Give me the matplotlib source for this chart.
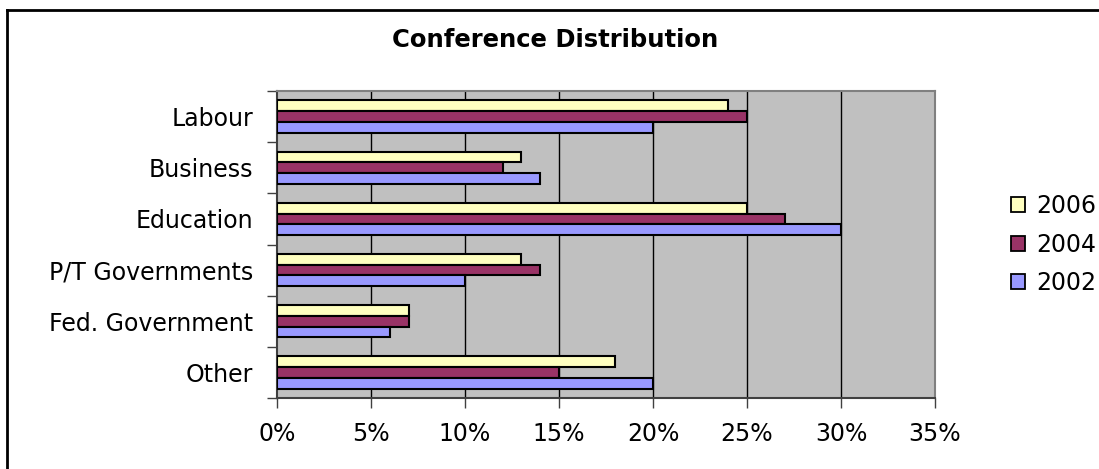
import matplotlib
matplotlib.use("Agg")
import matplotlib.pyplot as plt
from matplotlib.lines import Line2D
from matplotlib.patches import Patch
import numpy as np

plt.rcParams['font.family'] = ['DejaVu Sans']

categories = ["Labour", "Business", "Education", "P/T Governments",
              "Fed. Government", "Other"]
series_names = ["2006", "2004", "2002"]
values_2006 = [24, 13, 25, 13, 7, 18]
values_2004 = [25, 12, 27, 14, 7, 15]
values_2002 = [20, 14, 30, 10, 6, 20]
x_ticks = [0, 5, 10, 15, 20, 25, 30, 35]
x_tick_labels = ["0%", "5%", "10%", "15%", "20%", "25%", "30%", "35%"]

colors = ["#FFFFC0", "#993366", "#9999FF"]
series_values = [values_2006, values_2004, values_2002]

W, H = 1099, 469
fig = plt.figure(figsize=(W / 100, H / 100), dpi=100)
fig.patch.set_facecolor("white")

ax = fig.add_axes([277 / W, 1 - 398 / H, (935 - 277) / W, (398 - 91) / H])
ax.set_facecolor("#C0C0C0")

bar_h = 0.21
pos = np.arange(len(categories))
for k, (vals, col, name) in enumerate(zip(series_values, colors, series_names)):
    offset = (k - 1) * bar_h
    ax.barh(pos + offset, vals, height=bar_h, color=col, edgecolor="black",
            linewidth=1.5, label=name, zorder=3)

ax.set_xlim(0, 35)
ax.set_ylim(len(categories) - 0.5, -0.5)

for xv in x_ticks[1:-1]:
    ax.axvline(xv, color="black", linewidth=1.0, zorder=1)

ax.set_xticks(x_ticks)
ax.set_xticklabels(x_tick_labels, fontsize=17)
ax.tick_params(axis="x", direction="out", length=7, width=1, color="#404040",
               pad=10)

ax.set_yticks(pos)
ax.set_yticklabels(categories, fontsize=17)
ax.tick_params(axis="y", which="major", length=0, pad=17)
ax.set_yticks(np.arange(-0.5, len(categories) + 0.5, 1), minor=True)
ax.tick_params(axis="y", which="minor", direction="out", length=7, width=1,
               color="#404040")

for side in ["top", "right"]:
    ax.spines[side].set_color("#808080")
    ax.spines[side].set_linewidth(1.5)
for side in ["left", "bottom"]:
    ax.spines[side].set_color("#404040")
    ax.spines[side].set_linewidth(1.5)

fig.text(555 / W, 1 - 40 / H, "Conference Distribution", fontsize=17.5,
         fontweight="bold", ha="center", va="center")

handles = [Patch(facecolor=c, edgecolor="black", linewidth=1.3) for c in colors]
fig.legend(handles, series_names, loc="upper left",
           bbox_to_anchor=(1011 / W, 1 - 194 / H), frameon=False, fontsize=17,
           handlelength=0.6, handleheight=0.6, handletextpad=0.45,
           labelspacing=0.62, borderpad=0, borderaxespad=0)

# outer chart frame
fig.add_artist(Line2D([7 / W, 7 / W], [0, 1 - 10 / H], color="black",
                      linewidth=2, transform=fig.transFigure))
fig.add_artist(Line2D([7 / W, 1], [1 - 10 / H, 1 - 10 / H], color="black",
                      linewidth=2, transform=fig.transFigure))

fig.savefig("out.png", dpi=100)
